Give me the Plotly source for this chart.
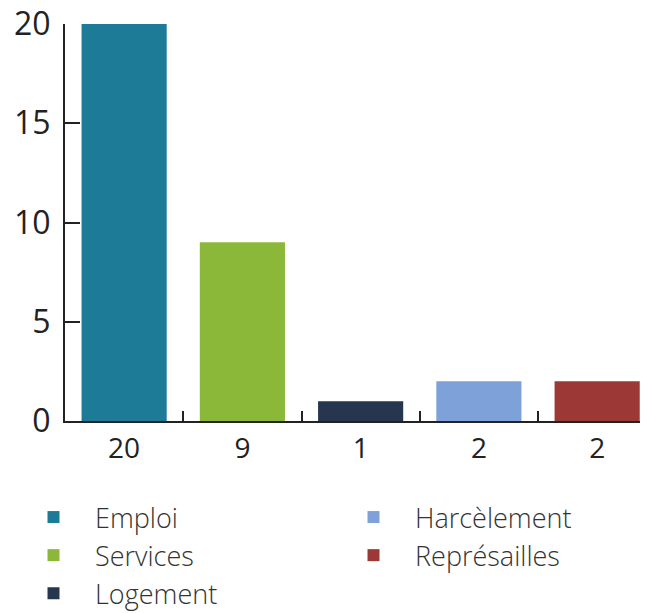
import plotly.graph_objects as go

categories = ['Emploi', 'Services', 'Logement', 'Harcèlement', 'Représailles']
values = [20, 9, 1, 2, 2]
colors = ['#1d7b98', '#8cb83a', '#26364f', '#7ea1da', '#9c3835']
legend_groups = ['legend', 'legend', 'legend', 'legend2', 'legend2']

fig = go.Figure()
for name, v, c, lg in zip(categories, values, colors, legend_groups):
    fig.add_trace(go.Bar(x=[name], y=[v], name=name, marker_color=c,
                         width=0.72, marker_line_width=0, legend=lg))

# page has an 8px body margin, so the figure is 8px smaller than the window
W, H = 640, 605
leg_font = dict(size=27, color='#333333', weight=300)
fig.update_layout(
    width=W, height=H,
    margin=dict(l=57, r=0, t=16, b=192, autoexpand=False),
    paper_bgcolor='white', plot_bgcolor='white',
    barmode='overlay',
    font=dict(family='Open Sans', color='#222222'),
    showlegend=True,
    legend=dict(xref='container', yref='container', x=4 / W, y=1 - 485 / H,
                xanchor='left', yanchor='top', font=leg_font, tracegroupgap=0,
                itemwidth=73),
    legend2=dict(xref='container', yref='container', x=324 / W, y=1 - 485 / H,
                 xanchor='left', yanchor='top', font=leg_font, tracegroupgap=0,
                 itemwidth=73),
)
fig.update_xaxes(
    categoryorder='array', categoryarray=categories,
    tickmode='array', tickvals=categories, ticktext=[str(v) for v in values],
    tickson='boundaries', ticks='inside', ticklen=10, tickwidth=1.5, tickcolor='#222',
    showline=True, linecolor='#222', linewidth=2, automargin=False, tickangle=0,
    range=[-0.5, 4.43], tickfont=dict(size=28), showgrid=False, ticklabelstandoff=1,
)
fig.update_yaxes(
    range=[0, 20], tickvals=[0, 5, 10, 15, 20], automargin=False,
    ticks='inside', ticklen=15, tickwidth=1.5, tickcolor='#222',
    showline=True, linecolor='#222', linewidth=2, showgrid=False, zeroline=False,
    tickfont=dict(size=32), ticklabelstandoff=6, ticklabeloverflow='allow',
)
fig.write_html('out.html')
